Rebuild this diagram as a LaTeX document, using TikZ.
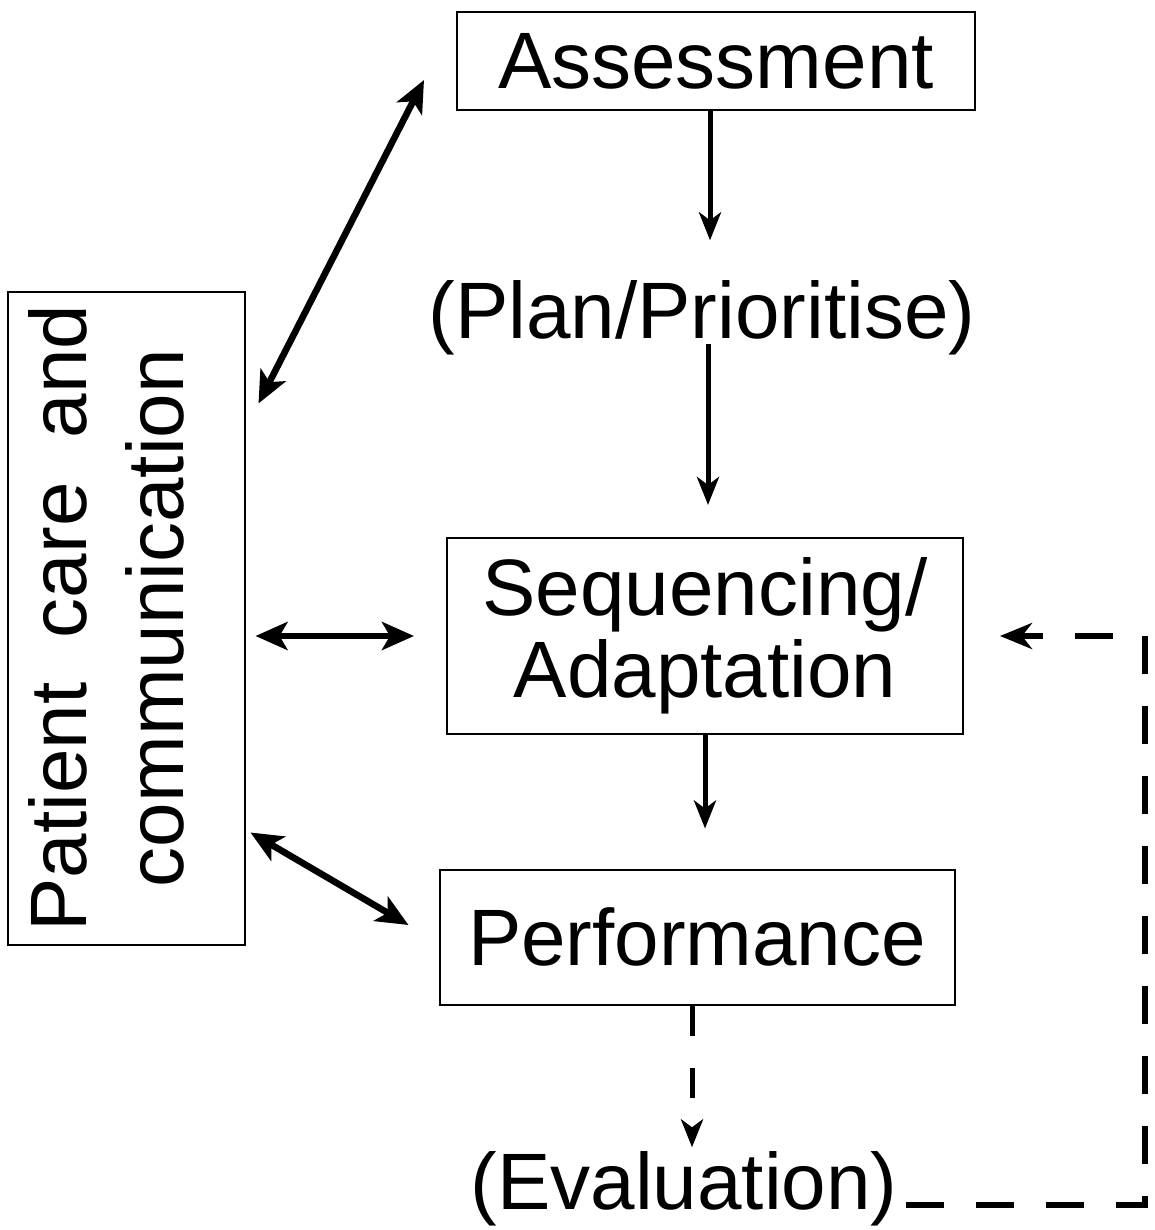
\documentclass[tikz,border=0pt]{standalone}
\usepackage{fontspec}
\setmainfont{Liberation Sans}
\usetikzlibrary{arrows.meta,calc}

\begin{document}
\begin{tikzpicture}[x=0.5pt,y=-0.5pt,
  txt/.style={inner sep=0pt, font=\fontsize{40}{41}\selectfont, align=center},
  box/.style={txt, draw, line width=1pt},
  flow/.style={line width=2.5pt, -{Stealth[length=14pt,width=11pt,inset=4pt]}},
  both/.style={line width=3.3pt,
    {Stealth[length=16pt,width=14pt,inset=4pt]}-{Stealth[length=16pt,width=14pt,inset=4pt]}},
  loop/.style={line width=3pt, dash pattern=on 19pt off 16pt,
    -{Stealth[length=16pt,width=13pt,inset=5pt]}},
]
\useasboundingbox (0,0) rectangle (1155,1230);

% main sequence
\node[box, minimum width=259pt, minimum height=49pt] (asmt) at (716,61) {Assessment};
\node[txt] (plan) at (702,318) {(Plan/Prioritise)};
\node[box, minimum width=258pt, minimum height=98pt] (seq) at (705,636) {Sequencing/\\Adaptation};
\node[box, minimum width=257.5pt, minimum height=67.5pt] (perf) at (697,937) {Performance};
\node[txt] (eval) at (684,1189) {(Evaluation)};

% side box, text turned upright
\node[box, minimum width=118.5pt, minimum height=326.5pt, font=\fontsize{40}{48.5}\selectfont] (pc) at (126,618)
  {\rotatebox{90}{\raisebox{5pt}[\height][\depth]{\begin{tabular}{@{}c@{}}Patient\ \ care\ \ and\\communication\end{tabular}}}};

% flow arrows
\draw[flow, shorten >=20pt] ([xshift=-3pt]asmt.south) -- ([xshift=-3pt]asmt.south |- plan.north);
\draw[flow, shorten <=-6pt, shorten >=16pt] ([xshift=3pt]plan.south) -- ([xshift=3pt]plan.south |- seq.north);
\draw[flow, shorten >=20pt] (seq.south) -- (seq.south |- perf.north);
\draw[flow, dash pattern=on 15pt off 16pt, shorten >=2pt]
  ([xshift=-2.5pt]perf.south) -- ([xshift=-2.5pt]perf.south |- eval.north);

% feedback loop back to sequencing
\coordinate (turn) at (1145,636);
\draw[loop, shorten <=4pt, shorten >=18pt]
  ([yshift=-8pt]eval.east) -- ([yshift=-8pt]eval.east -| turn) -- (turn) -- (seq.east);

% links with patient care and communication
\draw[both] ($(pc.north east)+(13,113)$) -- ($(asmt.west)+(-32,19)$);
\draw[both, shorten <=5pt, shorten >=16pt] (pc.east |- seq.west) -- (seq.west);
\draw[both] ($(pc.south east)+(5,-113)$) -- ($(perf.west)+(-30,-12)$);
\end{tikzpicture}
\end{document}
